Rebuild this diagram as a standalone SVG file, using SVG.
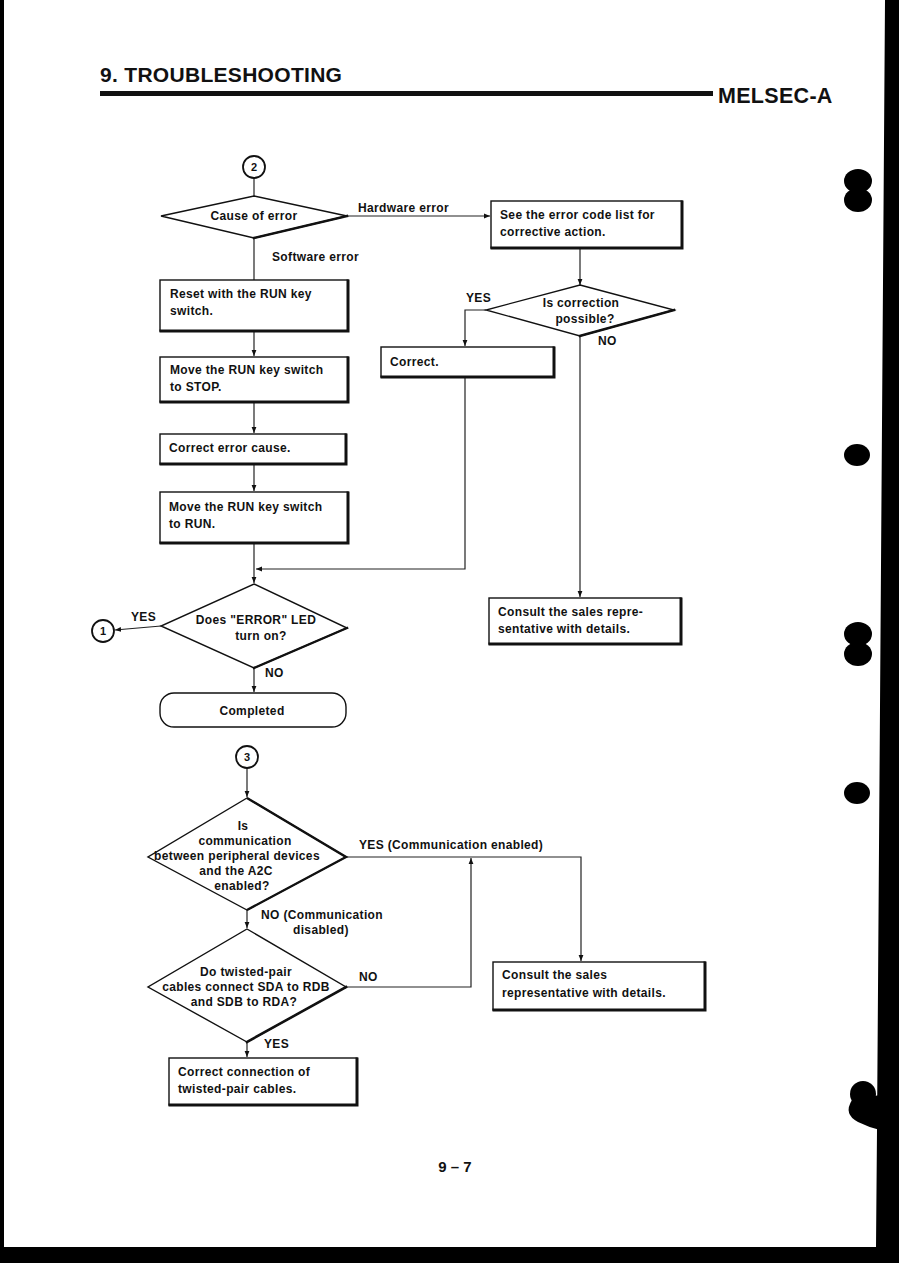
<svg xmlns="http://www.w3.org/2000/svg" width="899" height="1263" viewBox="0 0 899 1263">
<defs>
<marker id="arr" viewBox="0 0 10 10" refX="10" refY="5" markerWidth="6" markerHeight="6" orient="auto" markerUnits="userSpaceOnUse">
<path d="M0,1 L10,5 L0,9 Z" fill="#111"/>
</marker>
<style>
text{font-family:"Liberation Sans",Arial,sans-serif;fill:#111}
.t{font-size:12px;font-weight:bold;letter-spacing:0.35px}
.c{text-anchor:middle}
.box{fill:#fff;stroke:#111;stroke-width:1.4}
.sh{stroke:#111;stroke-width:3;fill:none;stroke-linecap:square}
.dia{fill:#fff;stroke:#111;stroke-width:1.4;stroke-linejoin:miter}
.con{fill:none;stroke:#222;stroke-width:1.2}
.ci{fill:#fff;stroke:#111;stroke-width:1.8}
.blob{fill:#000}
</style>
</defs>
<rect width="899" height="1263" fill="#fff"/>

<!-- scan border -->
<g id="border">
<polygon class="blob" points="885,0 899,0 899,1263 0,1263 0,1247 876,1247 877,1130"/>
<rect class="blob" x="0" y="0" width="4" height="1263"/>
<ellipse class="blob" cx="858" cy="181" rx="14" ry="12"/>
<ellipse class="blob" cx="858" cy="200" rx="14" ry="12"/>
<ellipse class="blob" cx="857" cy="455" rx="13" ry="11"/>
<ellipse class="blob" cx="858" cy="634" rx="14" ry="12"/>
<ellipse class="blob" cx="858" cy="654" rx="14" ry="12"/>
<ellipse class="blob" cx="857" cy="793" rx="13" ry="11"/>
<ellipse class="blob" cx="863" cy="1094" rx="13" ry="13"/>
<path class="blob" d="M852,1100 Q843,1114 858,1122 Q868,1127 880,1130 L880,1095 Z"/>
</g>

<!-- header -->
<g id="header">
<text x="100" y="82" style="font-size:21px;font-weight:bold;letter-spacing:0.3px">9. TROUBLESHOOTING</text>
<rect x="100" y="91" width="613" height="5" fill="#111"/>
<text x="718" y="103" style="font-size:21.5px;font-weight:bold;letter-spacing:0.3px">MELSEC-A</text>
</g>

<!-- connectors -->
<g id="connectors">
<line class="con" x1="254" y1="178" x2="254" y2="196"/>
<line class="con" x1="347" y1="216" x2="490" y2="216" marker-end="url(#arr)"/>
<line class="con" x1="254" y1="238" x2="254" y2="280"/>
<line class="con" x1="254" y1="331" x2="254" y2="356" marker-end="url(#arr)"/>
<line class="con" x1="254" y1="401" x2="254" y2="433" marker-end="url(#arr)"/>
<line class="con" x1="254" y1="464" x2="254" y2="491" marker-end="url(#arr)"/>
<line class="con" x1="254" y1="543" x2="254" y2="583" marker-end="url(#arr)"/>
<line class="con" x1="580" y1="248" x2="580" y2="285" marker-end="url(#arr)"/>
<polyline class="con" points="486,310 465,310 465,346" marker-end="url(#arr)"/>
<polyline class="con" points="465,377 465,569 256,569" marker-end="url(#arr)"/>
<line class="con" x1="580" y1="336" x2="580" y2="597" marker-end="url(#arr)"/>
<line class="con" x1="161" y1="626" x2="115" y2="630" marker-end="url(#arr)"/>
<line class="con" x1="254" y1="668" x2="254" y2="692" marker-end="url(#arr)"/>
<line class="con" x1="247" y1="768" x2="247" y2="797" marker-end="url(#arr)"/>
<polyline class="con" points="346,857 581,857 581,961" marker-end="url(#arr)"/>
<line class="con" x1="247" y1="910" x2="247" y2="928" marker-end="url(#arr)"/>
<polyline class="con" points="346,987 471,987 471,858" marker-end="url(#arr)"/>
<line class="con" x1="247" y1="1042" x2="247" y2="1057" marker-end="url(#arr)"/>
</g>

<!-- labels on connectors -->
<g id="labels">
<text class="t" x="358" y="212">Hardware  error</text>
<text class="t" x="272" y="261">Software error</text>
<text class="t" x="466" y="302">YES</text>
<text class="t" x="598" y="345">NO</text>
<text class="t" x="131" y="621">YES</text>
<text class="t" x="265" y="677">NO</text>
<text class="t" x="359" y="849">YES (Communication enabled)</text>
<text class="t" x="261" y="919">NO (Communication</text>
<text class="t" x="293" y="934">disabled)</text>
<text class="t" x="359" y="981">NO</text>
<text class="t" x="264" y="1048">YES</text>
</g>

<g id="c2">
<circle class="ci" cx="254" cy="167" r="11"/>
<text class="c" x="254" y="171" style="font-size:11px;font-weight:bold">2</text>
</g>

<g id="d_cause">
<polygon class="dia" points="254,196 347,216 254,238 161,216"/>
<line class="sh" x1="347" y1="216" x2="254" y2="238" style="stroke-width:2.6"/>
<text class="t c" x="254" y="220">Cause of error</text>
</g>

<g id="b_errlist">
<rect class="box" x="491" y="201" width="191" height="47"/>
<polyline class="sh" points="682,202 682,248 492,248"/>
<text class="t" x="500" y="219">See the error code list for</text>
<text class="t" x="500" y="236">corrective action.</text>
</g>

<g id="b_reset">
<rect class="box" x="160" y="280" width="188" height="51"/>
<polyline class="sh" points="348,281 348,331 161,331"/>
<text class="t" x="170" y="298">Reset with the RUN key</text>
<text class="t" x="170" y="315">switch.</text>
</g>

<g id="b_stop">
<rect class="box" x="160" y="357" width="188" height="45"/>
<polyline class="sh" points="348,358 348,402 161,402"/>
<text class="t" x="170" y="374">Move the RUN key switch</text>
<text class="t" x="170" y="391">to  STOP.</text>
</g>

<g id="b_correrr">
<rect class="box" x="160" y="434" width="186" height="30"/>
<polyline class="sh" points="346,435 346,464 161,464"/>
<text class="t" x="169" y="452">Correct error cause.</text>
</g>

<g id="b_run">
<rect class="box" x="160" y="492" width="188" height="51"/>
<polyline class="sh" points="348,493 348,543 161,543"/>
<text class="t" x="169" y="511">Move the RUN key switch</text>
<text class="t" x="169" y="528">to  RUN.</text>
</g>

<g id="d_possible">
<polygon class="dia" points="580,285 674,310 580,336 486,310"/>
<line class="sh" x1="674" y1="310" x2="580" y2="336" style="stroke-width:2.6"/>
<text class="t c" x="581" y="307">Is  correction</text>
<text class="t c" x="585" y="323">possible?</text>
</g>

<g id="b_correct">
<rect class="box" x="381" y="347" width="173" height="30"/>
<polyline class="sh" points="554,348 554,377 382,377"/>
<text class="t" x="390" y="366">Correct.</text>
</g>

<g id="b_consult1">
<rect class="box" x="489" y="598" width="192" height="46"/>
<polyline class="sh" points="681,599 681,644 490,644"/>
<text class="t" x="498" y="616">Consult the sales repre-</text>
<text class="t" x="498" y="633">sentative with details.</text>
</g>

<g id="d_led">
<polygon class="dia" points="254,584 347,628 254,668 161,626"/>
<line class="sh" x1="347" y1="628" x2="254" y2="668" style="stroke-width:2.4"/>
<text class="t c" x="256" y="624">Does "ERROR" LED</text>
<text class="t c" x="261" y="640">turn on?</text>
</g>

<g id="c1">
<circle class="ci" cx="103" cy="631" r="11"/>
<text class="c" x="103" y="635" style="font-size:11px;font-weight:bold">1</text>
</g>

<g id="t_completed">
<rect class="box" x="160" y="693" width="186" height="34" rx="14" ry="14"/>
<text class="t c" x="252" y="715">Completed</text>
</g>

<g id="c3">
<circle class="ci" cx="247" cy="757" r="11"/>
<text class="c" x="247" y="761" style="font-size:11px;font-weight:bold">3</text>
</g>

<g id="d_comm">
<polygon class="dia" points="247,798 346,857 247,910 148,857"/>
<polyline class="sh" points="247,798 346,857 247,910" style="stroke-width:2.4;stroke-linecap:butt"/>
<text class="t c" x="243" y="830">Is</text>
<text class="t c" x="245" y="845">communication</text>
<text class="t c" x="237" y="860">between peripheral devices</text>
<text class="t c" x="236" y="875">and the A2C</text>
<text class="t c" x="242" y="890">enabled?</text>
</g>

<g id="b_consult2">
<rect class="box" x="493" y="962" width="212" height="48"/>
<polyline class="sh" points="705,963 705,1010 494,1010"/>
<text class="t" x="502" y="979">Consult the sales</text>
<text class="t" x="502" y="997">representative with details.</text>
</g>

<g id="d_twist">
<polygon class="dia" points="247,929 346,987 247,1042 148,987"/>
<line class="sh" x1="346" y1="987" x2="247" y2="1042" style="stroke-width:2.6"/>
<text class="t c" x="246" y="976">Do twisted-pair</text>
<text class="t c" x="246" y="991">cables connect SDA to RDB</text>
<text class="t c" x="244" y="1006">and SDB to RDA?</text>
</g>

<g id="b_twistfix">
<rect class="box" x="169" y="1058" width="188" height="47"/>
<polyline class="sh" points="357,1059 357,1105 170,1105"/>
<text class="t" x="178" y="1076">Correct connection of</text>
<text class="t" x="178" y="1093">twisted-pair cables.</text>
</g>

<g id="footer">
<text class="c" x="455" y="1172" style="font-size:15px;font-weight:bold">9 – 7</text>
</g>
</svg>
